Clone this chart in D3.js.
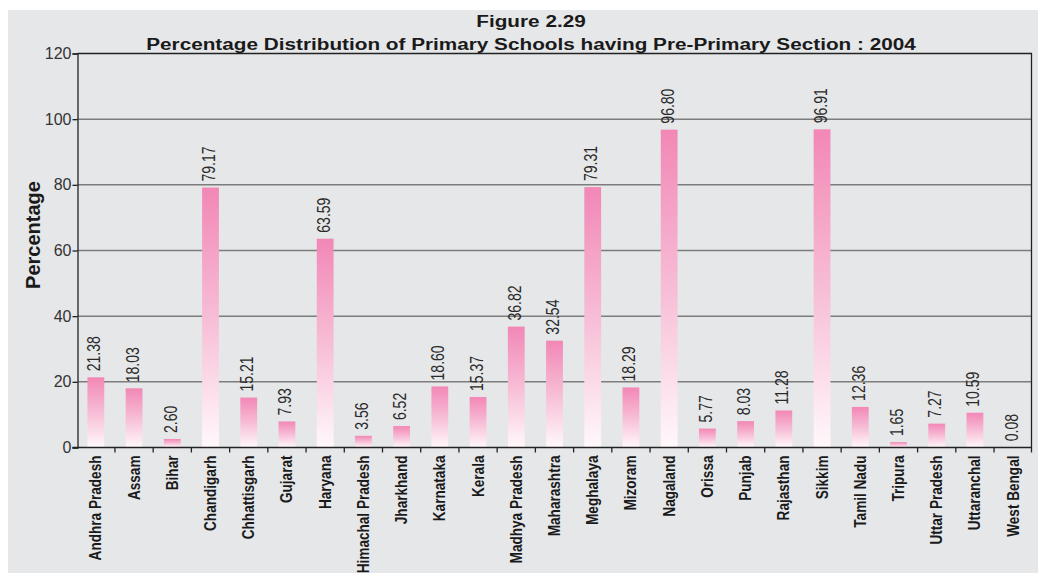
<!DOCTYPE html>
<html>
<head>
<meta charset="utf-8">
<script src="https://cdn.jsdelivr.net/npm/d3@7"></script>
<style>
  body { margin: 0; background: #fff; }
  svg { display: block; font-family: "Liberation Sans", Arial, sans-serif; }
</style>
</head>
<body>
<svg width="1038" height="573"></svg>
<script>
// states and their share of primary schools with a pre-primary section
var states = ["Andhra Pradesh", "Assam", "Bihar", "Chandigarh", "Chhattisgarh", "Gujarat",
	"Haryana", "Himachal Pradesh", "Jharkhand", "Karnataka", "Kerala", "Madhya Pradesh",
	"Maharashtra", "Meghalaya", "Mizoram", "Nagaland", "Orissa", "Punjab", "Rajasthan",
	"Sikkim", "Tamil Nadu", "Tripura", "Uttar Pradesh", "Uttaranchal", "West Bengal"];
var percents = [21.38, 18.03, 2.60, 79.17, 15.21, 7.93, 63.59, 3.56, 6.52, 18.60, 15.37, 36.82,
	32.54, 79.31, 18.29, 96.80, 5.77, 8.03, 11.28, 96.91, 12.36, 1.65, 7.27, 10.59, 0.08];
var yTicks = [0, 20, 40, 60, 80, 100, 120];

var svg = d3.select("svg");

// grey panel
svg.append("rect")
	.attr("x", 8).attr("y", 10)
	.attr("width", 1030).attr("height", 563)
	.attr("fill", "#e6e7e9");

// bar gradient, pink at top fading to white
var grad = svg.append("defs").append("linearGradient")
	.attr("id", "barFill")
	.attr("x1", 0).attr("y1", 0).attr("x2", 0).attr("y2", 1);
grad.append("stop").attr("offset", "0%").attr("stop-color", "#f287b6");
grad.append("stop").attr("offset", "50%").attr("stop-color", "#f7bdd6");
grad.append("stop").attr("offset", "100%").attr("stop-color", "#fff8fb");

var plotL = 77.5, plotR = 1031.5, plotT = 53.5, plotB = 447.5;

var x = d3.scaleBand()
	.domain(states)
	.range([plotL, plotR])
	.paddingInner(0.56)
	.paddingOuter(0.26);

var y = d3.scaleLinear()
	.domain([0, 120])
	.range([plotB, plotT]);

// gridlines
svg.append("g")
	.selectAll("line")
	.data(yTicks.filter(function(d) { return d > 0 && d < 120; }))
	.enter()
	.append("line")
	.attr("x1", plotL).attr("x2", plotR)
	.attr("y1", function(d) { return y(d); })
	.attr("y2", function(d) { return y(d); })
	.attr("stroke", "#7d7d7d")
	.attr("stroke-width", 1.5);

// frame top and right
svg.append("path")
	.attr("d", "M" + plotL + "," + plotT + "H" + plotR + "V" + (plotB + 5))
	.attr("fill", "none")
	.attr("stroke", "#222")
	.attr("stroke-width", 1.3);

// bars
svg.append("g")
	.selectAll("rect")
	.data(percents)
	.enter()
	.append("rect")
	.attr("x", function(d, i) { return x(states[i]); })
	.attr("y", function(d) { return y(d); })
	.attr("width", x.bandwidth())
	.attr("height", function(d) { return plotB - y(d); })
	.attr("fill", "url(#barFill)");

// value labels (narrow face, so squeeze along the text)
svg.append("g")
	.selectAll("text")
	.data(percents)
	.enter()
	.append("text")
	.attr("transform", function(d, i) {
		return "translate(" + (x(states[i]) + x.bandwidth() / 2 + 4.5) + "," + (y(d) - 6) + ") rotate(-90) scale(0.78,1)";
	})
	.attr("font-size", 18)
	.attr("fill", "#2a2a2a")
	.text(function(d) { return d.toFixed(2); });

// y axis
var yAxis = svg.append("g")
	.attr("transform", "translate(" + plotL + ",0)")
	.call(d3.axisLeft(y).tickValues(yTicks).tickSize(5).tickPadding(1));
yAxis.select(".domain").attr("stroke", "#222").attr("stroke-width", 1.3);
yAxis.selectAll(".tick line").attr("stroke", "#222").attr("stroke-width", 1.3);
yAxis.selectAll(".tick text")
	.attr("font-size", 16)
	.attr("fill", "#333")
	.attr("font-family", "Liberation Sans, Arial, sans-serif");

// x axis: ticks sit between categories
var xAxis = svg.append("g")
	.attr("transform", "translate(0," + plotB + ")");
xAxis.append("line")
	.attr("x1", plotL - 5).attr("x2", plotR)
	.attr("stroke", "#222").attr("stroke-width", 1.3);
xAxis.selectAll("line.tk")
	.data(states.slice(1))
	.enter()
	.append("line")
	.classed("tk", true)
	.attr("x1", function(d) { return x(d) - x.step() * x.paddingInner() / 2; })
	.attr("x2", function(d) { return x(d) - x.step() * x.paddingInner() / 2; })
	.attr("y1", 0).attr("y2", 5)
	.attr("stroke", "#222").attr("stroke-width", 1.3);

xAxis.selectAll("text")
	.data(states)
	.enter()
	.append("text")
	.attr("transform", function(d) {
		return "translate(" + (x(d) + x.bandwidth() / 2 + 5.5) + ",8) rotate(-90) scale(0.85,1)";
	})
	.attr("text-anchor", "end")
	.attr("font-size", 16)
	.attr("font-weight", "bold")
	.attr("fill", "#1a1a1a")
	.text(function(d) { return d; });

// titles (wide face, so stretch horizontally)
svg.append("text")
	.attr("transform", "translate(531,27) scale(1.22,1)")
	.attr("text-anchor", "middle")
	.attr("font-size", 17).attr("font-weight", "bold").attr("fill", "#1a1a1a")
	.text("Figure 2.29");
svg.append("text")
	.attr("transform", "translate(531,50) scale(1.22,1)")
	.attr("text-anchor", "middle")
	.attr("font-size", 17).attr("font-weight", "bold").attr("fill", "#1a1a1a")
	.text("Percentage Distribution of Primary Schools having Pre-Primary Section : 2004");

svg.append("text")
	.attr("transform", "translate(40,235) rotate(-90)")
	.attr("text-anchor", "middle")
	.attr("font-size", 20).attr("font-weight", "bold").attr("fill", "#1a1a1a")
	.text("Percentage");
</script>
</body>
</html>
